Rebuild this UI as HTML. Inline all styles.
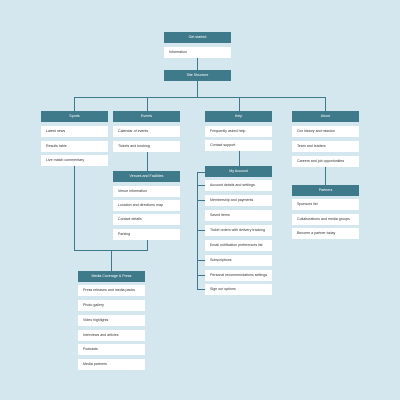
<!DOCTYPE html><html><head><style>
body{margin:0;width:400px;height:400px;background:#d5e7ee;position:relative;overflow:hidden;font-family:"Liberation Sans",sans-serif}
.h,.i{position:absolute;width:67px;height:11px;font-size:3.6px;line-height:11px;white-space:nowrap;overflow:hidden}
.h{background:#3f7a8b;color:#fff;text-align:center}
.i{background:#fff;color:#333;padding-left:5px;width:62px}
.l{position:absolute;background:#3f7a8b}
</style></head><body>
<div class="l" style="left:197px;top:58px;width:1px;height:40px"></div>
<div class="l" style="left:74px;top:97px;width:252px;height:1px"></div>
<div class="l" style="left:74px;top:97px;width:1px;height:14px"></div>
<div class="l" style="left:147px;top:97px;width:1px;height:14px"></div>
<div class="l" style="left:239px;top:97px;width:1px;height:14px"></div>
<div class="l" style="left:325px;top:97px;width:1px;height:14px"></div>
<div class="l" style="left:74px;top:166px;width:1px;height:85px"></div>
<div class="l" style="left:147px;top:152px;width:1px;height:20px"></div>
<div class="l" style="left:147px;top:240px;width:1px;height:11px"></div>
<div class="l" style="left:74px;top:250px;width:74px;height:1px"></div>
<div class="l" style="left:111px;top:250px;width:1px;height:21px"></div>
<div class="l" style="left:239px;top:151px;width:1px;height:15px"></div>
<div class="l" style="left:325px;top:167px;width:1px;height:18px"></div>
<div class="l" style="left:197px;top:172px;width:1px;height:118px"></div>
<div class="l" style="left:197px;top:172px;width:8px;height:1px"></div>
<div class="l" style="left:197px;top:185px;width:8px;height:1px"></div>
<div class="l" style="left:197px;top:200px;width:8px;height:1px"></div>
<div class="l" style="left:197px;top:230px;width:8px;height:1px"></div>
<div class="l" style="left:197px;top:260px;width:8px;height:1px"></div>
<div class="l" style="left:197px;top:275px;width:8px;height:1px"></div>
<div class="l" style="left:197px;top:289px;width:8px;height:1px"></div>

<div class="h" style="left:164px;top:32px">Get started</div>
<div class="i" style="left:164px;top:47px">Information</div>
<div class="h" style="left:164px;top:70px">Site Structure</div>

<div class="h" style="left:41px;top:111px">Sports</div>
<div class="i" style="left:41px;top:126px">Latest news</div>
<div class="i" style="left:41px;top:141px">Results table</div>
<div class="i" style="left:41px;top:155px">Live match commentary</div>

<div class="h" style="left:113px;top:111px">Events</div>
<div class="i" style="left:113px;top:126px">Calendar of events</div>
<div class="i" style="left:113px;top:141px">Tickets and booking</div>
<div class="h" style="left:113px;top:171px">Venues and Facilities</div>
<div class="i" style="left:113px;top:186px">Venue information</div>
<div class="i" style="left:113px;top:200px">Location and directions map</div>
<div class="i" style="left:113px;top:214px">Contact details</div>
<div class="i" style="left:113px;top:229px">Parking</div>

<div class="h" style="left:78px;top:271px">Media Coverage &amp; Press</div>
<div class="i" style="left:78px;top:285px">Press releases and media packs</div>
<div class="i" style="left:78px;top:300px">Photo gallery</div>
<div class="i" style="left:78px;top:315px">Video highlights</div>
<div class="i" style="left:78px;top:330px">Interviews and articles</div>
<div class="i" style="left:78px;top:344px">Podcasts</div>
<div class="i" style="left:78px;top:359px">Media partners</div>

<div class="h" style="left:205px;top:111px">Help</div>
<div class="i" style="left:205px;top:126px">Frequently asked help</div>
<div class="i" style="left:205px;top:140px">Contact support</div>
<div class="h" style="left:205px;top:166px">My Account</div>
<div class="i" style="left:205px;top:180px">Account details and settings</div>
<div class="i" style="left:205px;top:195px">Membership and payments</div>
<div class="i" style="left:205px;top:210px">Saved items</div>
<div class="i" style="left:205px;top:225px">Ticket orders with delivery tracking</div>
<div class="i" style="left:205px;top:240px">Email notification preferences list</div>
<div class="i" style="left:205px;top:255px">Subscriptions</div>
<div class="i" style="left:205px;top:270px">Personal recommendations settings</div>
<div class="i" style="left:205px;top:284px">Sign out options</div>

<div class="h" style="left:292px;top:111px">About</div>
<div class="i" style="left:292px;top:126px">Our history and mission</div>
<div class="i" style="left:292px;top:141px">Team and leaders</div>
<div class="i" style="left:292px;top:156px">Careers and job opportunities</div>
<div class="h" style="left:292px;top:185px">Partners</div>
<div class="i" style="left:292px;top:199px">Sponsors list</div>
<div class="i" style="left:292px;top:214px">Collaborations and media groups</div>
<div class="i" style="left:292px;top:228px">Become a partner today</div>
</body></html>
